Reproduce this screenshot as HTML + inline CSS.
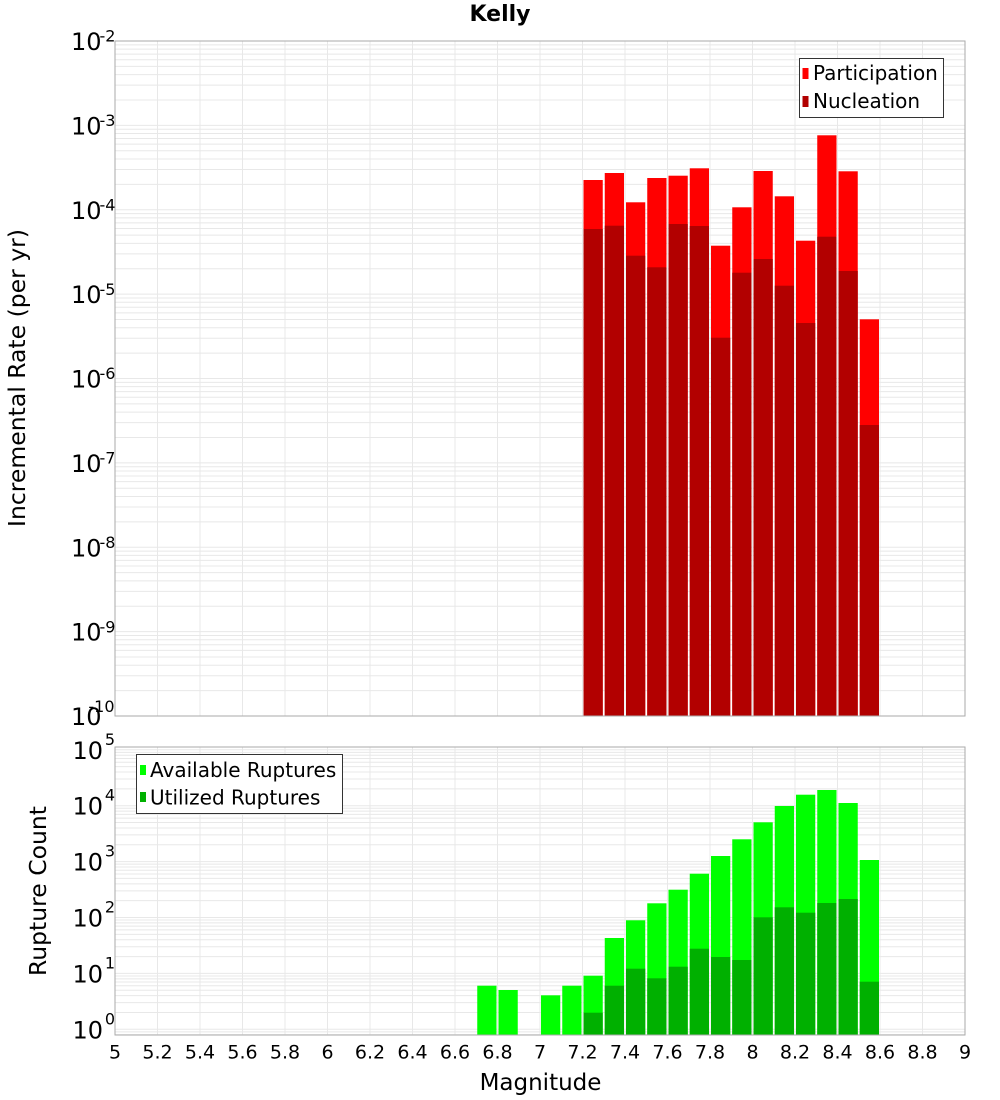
<!DOCTYPE html>
<html>
<head>
<meta charset="utf-8">
<style>
html,body{margin:0;padding:0;background:#fff;}
svg{display:block;}
text{font-family:"DejaVu Sans","Liberation Sans",sans-serif;fill:#000;}
</style>
</head>
<body>
<svg width="1000" height="1100" viewBox="0 0 1000 1100" xmlns="http://www.w3.org/2000/svg">
<defs>
  <clipPath id="cpT"><rect x="115" y="41" width="850" height="675"/></clipPath>
  <clipPath id="cpB"><rect x="115" y="747" width="850" height="288"/></clipPath>
  <g id="dT" stroke="#e8e8e8" stroke-width="1">
    <line x1="115" x2="965" y1="0" y2="0"/>
    <line x1="115" x2="965" y1="3.865" y2="3.865"/>
    <line x1="115" x2="965" y1="8.175" y2="8.175"/>
    <line x1="115" x2="965" y1="13.075" y2="13.075"/>
    <line x1="115" x2="965" y1="18.715" y2="18.715"/>
    <line x1="115" x2="965" y1="25.395" y2="25.395"/>
    <line x1="115" x2="965" y1="33.575" y2="33.575"/>
    <line x1="115" x2="965" y1="44.115" y2="44.115"/>
    <line x1="115" x2="965" y1="58.975" y2="58.975"/>
  </g>
  <g id="dB" stroke="#e8e8e8" stroke-width="1">
    <line x1="115" x2="965" y1="0" y2="0"/>
    <line x1="115" x2="965" y1="2.558" y2="2.558"/>
    <line x1="115" x2="965" y1="5.417" y2="5.417"/>
    <line x1="115" x2="965" y1="8.659" y2="8.659"/>
    <line x1="115" x2="965" y1="12.401" y2="12.401"/>
    <line x1="115" x2="965" y1="16.828" y2="16.828"/>
    <line x1="115" x2="965" y1="22.245" y2="22.245"/>
    <line x1="115" x2="965" y1="29.229" y2="29.229"/>
    <line x1="115" x2="965" y1="39.072" y2="39.072"/>
  </g>
</defs>

<!-- Title -->
<text x="500" y="21" text-anchor="middle" font-size="22" font-weight="bold">Kelly</text>

<!-- ================= TOP PLOT ================= -->
<rect x="115" y="41" width="850" height="675" fill="#fff"/>
<g clip-path="url(#cpT)">
  <use href="#dT" y="41"/>
  <use href="#dT" y="125.375"/>
  <use href="#dT" y="209.75"/>
  <use href="#dT" y="294.125"/>
  <use href="#dT" y="378.5"/>
  <use href="#dT" y="462.875"/>
  <use href="#dT" y="547.25"/>
  <use href="#dT" y="631.625"/>
  <g stroke="#e8e8e8" stroke-width="1">
    <line x1="157.5" x2="157.5" y1="41" y2="716"/>
    <line x1="200" x2="200" y1="41" y2="716"/>
    <line x1="242.5" x2="242.5" y1="41" y2="716"/>
    <line x1="285" x2="285" y1="41" y2="716"/>
    <line x1="327.5" x2="327.5" y1="41" y2="716"/>
    <line x1="370" x2="370" y1="41" y2="716"/>
    <line x1="412.5" x2="412.5" y1="41" y2="716"/>
    <line x1="455" x2="455" y1="41" y2="716"/>
    <line x1="497.5" x2="497.5" y1="41" y2="716"/>
    <line x1="540" x2="540" y1="41" y2="716"/>
    <line x1="582.5" x2="582.5" y1="41" y2="716"/>
    <line x1="625" x2="625" y1="41" y2="716"/>
    <line x1="667.5" x2="667.5" y1="41" y2="716"/>
    <line x1="710" x2="710" y1="41" y2="716"/>
    <line x1="752.5" x2="752.5" y1="41" y2="716"/>
    <line x1="795" x2="795" y1="41" y2="716"/>
    <line x1="837.5" x2="837.5" y1="41" y2="716"/>
    <line x1="880" x2="880" y1="41" y2="716"/>
    <line x1="922.5" x2="922.5" y1="41" y2="716"/>
  </g>
  <!-- Participation -->
  <g fill="#ff0000">
    <rect x="583.5" y="180" width="19.25" height="536"/>
    <rect x="604.75" y="173" width="19.25" height="543"/>
    <rect x="626" y="202.3" width="19.25" height="513.7"/>
    <rect x="647.25" y="178" width="19.25" height="538"/>
    <rect x="668.5" y="175.7" width="19.25" height="540.3"/>
    <rect x="689.75" y="168.3" width="19.25" height="547.7"/>
    <rect x="711" y="245.7" width="19.25" height="470.3"/>
    <rect x="732.25" y="207.3" width="19.25" height="508.7"/>
    <rect x="753.5" y="171" width="19.25" height="545"/>
    <rect x="774.75" y="196.3" width="19.25" height="519.7"/>
    <rect x="796" y="240.7" width="19.25" height="475.3"/>
    <rect x="817.25" y="135.3" width="19.25" height="580.7"/>
    <rect x="838.5" y="171.3" width="19.25" height="544.7"/>
    <rect x="859.75" y="319.3" width="19.25" height="396.7"/>
  </g>
  <!-- Nucleation -->
  <g fill="#b20000">
    <rect x="583.5" y="229" width="19.25" height="487"/>
    <rect x="604.75" y="225.7" width="19.25" height="490.3"/>
    <rect x="626" y="255.7" width="19.25" height="460.3"/>
    <rect x="647.25" y="267.3" width="19.25" height="448.7"/>
    <rect x="668.5" y="224" width="19.25" height="492"/>
    <rect x="689.75" y="226" width="19.25" height="490"/>
    <rect x="711" y="337.7" width="19.25" height="378.3"/>
    <rect x="732.25" y="272.7" width="19.25" height="443.3"/>
    <rect x="753.5" y="259" width="19.25" height="457"/>
    <rect x="774.75" y="285.7" width="19.25" height="430.3"/>
    <rect x="796" y="323" width="19.25" height="393"/>
    <rect x="817.25" y="236.7" width="19.25" height="479.3"/>
    <rect x="838.5" y="271" width="19.25" height="445"/>
    <rect x="859.75" y="425" width="19.25" height="291"/>
  </g>
</g>
<rect x="115" y="41" width="850" height="675" fill="none" stroke="#aaaaaa" stroke-width="1"/>

<!-- Top legend -->
<rect x="799.5" y="58.5" width="144" height="59" fill="#fff" stroke="#333" stroke-width="1"/>
<rect x="802.5" y="68" width="6" height="11" fill="#ff0000"/>
<rect x="802.5" y="96" width="6" height="11" fill="#b20000"/>
<text x="813" y="80" font-size="20">Participation</text>
<text x="813" y="108" font-size="20">Nucleation</text>

<!-- Top y tick labels -->
<g font-size="24" text-anchor="end">
  <text x="101.5" y="50">10</text>
  <text x="101.5" y="134.4">10</text>
  <text x="101.5" y="218.8">10</text>
  <text x="101.5" y="303.1">10</text>
  <text x="101.5" y="387.5">10</text>
  <text x="101.5" y="471.9">10</text>
  <text x="101.5" y="556.3">10</text>
  <text x="101.5" y="640.6">10</text>
  <text x="101.5" y="725">10</text>
</g>
<g font-size="16" text-anchor="start">
  <text x="99.5" y="41.7">-2</text>
  <text x="99.5" y="126.1">-3</text>
  <text x="99.5" y="210.5">-4</text>
  <text x="99.5" y="294.8">-5</text>
  <text x="99.5" y="379.2">-6</text>
  <text x="99.5" y="463.6">-7</text>
  <text x="99.5" y="548">-8</text>
  <text x="99.5" y="632.3">-9</text>
</g>
<text x="114.5" y="712" font-size="16" text-anchor="end">-10</text>

<text transform="translate(25,378) rotate(-90)" text-anchor="middle" font-size="23.5">Incremental Rate (per yr)</text>

<!-- ================= BOTTOM PLOT ================= -->
<rect x="115" y="747" width="850" height="288" fill="#fff"/>
<g clip-path="url(#cpB)">
  <use href="#dB" y="749.8"/>
  <use href="#dB" y="805.7"/>
  <use href="#dB" y="861.6"/>
  <use href="#dB" y="917.5"/>
  <use href="#dB" y="973.4"/>
  <use href="#dB" y="1029.3"/>
  <g stroke="#e8e8e8" stroke-width="1">
    <line x1="157.5" x2="157.5" y1="747" y2="1035"/>
    <line x1="200" x2="200" y1="747" y2="1035"/>
    <line x1="242.5" x2="242.5" y1="747" y2="1035"/>
    <line x1="285" x2="285" y1="747" y2="1035"/>
    <line x1="327.5" x2="327.5" y1="747" y2="1035"/>
    <line x1="370" x2="370" y1="747" y2="1035"/>
    <line x1="412.5" x2="412.5" y1="747" y2="1035"/>
    <line x1="455" x2="455" y1="747" y2="1035"/>
    <line x1="497.5" x2="497.5" y1="747" y2="1035"/>
    <line x1="540" x2="540" y1="747" y2="1035"/>
    <line x1="582.5" x2="582.5" y1="747" y2="1035"/>
    <line x1="625" x2="625" y1="747" y2="1035"/>
    <line x1="667.5" x2="667.5" y1="747" y2="1035"/>
    <line x1="710" x2="710" y1="747" y2="1035"/>
    <line x1="752.5" x2="752.5" y1="747" y2="1035"/>
    <line x1="795" x2="795" y1="747" y2="1035"/>
    <line x1="837.5" x2="837.5" y1="747" y2="1035"/>
    <line x1="880" x2="880" y1="747" y2="1035"/>
    <line x1="922.5" x2="922.5" y1="747" y2="1035"/>
  </g>
  <!-- Available -->
  <g fill="#00ff00">
    <rect x="477.25" y="985.7" width="19.25" height="49.3"/>
    <rect x="498.5" y="990" width="19.25" height="45"/>
    <rect x="541" y="995.3" width="19.25" height="39.7"/>
    <rect x="562.25" y="985.7" width="19.25" height="49.3"/>
    <rect x="583.5" y="975.7" width="19.25" height="59.3"/>
    <rect x="604.75" y="938" width="19.25" height="97"/>
    <rect x="626" y="920.3" width="19.25" height="114.7"/>
    <rect x="647.25" y="903.3" width="19.25" height="131.7"/>
    <rect x="668.5" y="889.7" width="19.25" height="145.3"/>
    <rect x="689.75" y="873.7" width="19.25" height="161.3"/>
    <rect x="711" y="856" width="19.25" height="179"/>
    <rect x="732.25" y="839.3" width="19.25" height="195.7"/>
    <rect x="753.5" y="822.3" width="19.25" height="212.7"/>
    <rect x="774.75" y="806" width="19.25" height="229"/>
    <rect x="796" y="794.7" width="19.25" height="240.3"/>
    <rect x="817.25" y="790" width="19.25" height="245"/>
    <rect x="838.5" y="803" width="19.25" height="232"/>
    <rect x="859.75" y="860" width="19.25" height="175"/>
  </g>
  <!-- Utilized -->
  <g fill="#00b000">
    <rect x="583.5" y="1012.7" width="19.25" height="22.3"/>
    <rect x="604.75" y="985.7" width="19.25" height="49.3"/>
    <rect x="626" y="968.7" width="19.25" height="66.3"/>
    <rect x="647.25" y="978.3" width="19.25" height="56.7"/>
    <rect x="668.5" y="966.7" width="19.25" height="68.3"/>
    <rect x="689.75" y="948.7" width="19.25" height="86.3"/>
    <rect x="711" y="957" width="19.25" height="78"/>
    <rect x="732.25" y="960" width="19.25" height="75"/>
    <rect x="753.5" y="917.3" width="19.25" height="117.7"/>
    <rect x="774.75" y="907.3" width="19.25" height="127.7"/>
    <rect x="796" y="912.7" width="19.25" height="122.3"/>
    <rect x="817.25" y="903" width="19.25" height="132"/>
    <rect x="838.5" y="899" width="19.25" height="136"/>
    <rect x="859.75" y="981.7" width="19.25" height="53.3"/>
  </g>
</g>
<rect x="115" y="747" width="850" height="288" fill="none" stroke="#aaaaaa" stroke-width="1"/>

<!-- Bottom legend -->
<rect x="136.5" y="754.5" width="206" height="59" fill="#fff" stroke="#333" stroke-width="1"/>
<rect x="140" y="765" width="6" height="10" fill="#00ff00"/>
<rect x="140" y="792" width="6" height="10" fill="#00b000"/>
<text x="150" y="777" font-size="20">Available Ruptures</text>
<text x="150" y="804.5" font-size="20">Utilized Ruptures</text>

<!-- Bottom y tick labels -->
<g font-size="24" text-anchor="end">
  <text x="103" y="758.8">10</text>
  <text x="103" y="814.7">10</text>
  <text x="103" y="870.6">10</text>
  <text x="103" y="926.5">10</text>
  <text x="103" y="982.4">10</text>
  <text x="103" y="1038.3">10</text>
</g>
<g font-size="16" text-anchor="end">
  <text x="115" y="744.8">5</text>
  <text x="115" y="800.7">4</text>
  <text x="115" y="856.6">3</text>
  <text x="115" y="912.5">2</text>
  <text x="115" y="968.4">1</text>
  <text x="115" y="1024.3">0</text>
</g>

<text transform="translate(46,891) rotate(-90)" text-anchor="middle" font-size="23.5">Rupture Count</text>

<!-- X tick labels -->
<g font-size="19" text-anchor="middle">
  <text x="115" y="1058.5">5</text>
  <text x="157.5" y="1058.5">5.2</text>
  <text x="200" y="1058.5">5.4</text>
  <text x="242.5" y="1058.5">5.6</text>
  <text x="285" y="1058.5">5.8</text>
  <text x="327.5" y="1058.5">6</text>
  <text x="370" y="1058.5">6.2</text>
  <text x="412.5" y="1058.5">6.4</text>
  <text x="455" y="1058.5">6.6</text>
  <text x="497.5" y="1058.5">6.8</text>
  <text x="540" y="1058.5">7</text>
  <text x="582.5" y="1058.5">7.2</text>
  <text x="625" y="1058.5">7.4</text>
  <text x="667.5" y="1058.5">7.6</text>
  <text x="710" y="1058.5">7.8</text>
  <text x="752.5" y="1058.5">8</text>
  <text x="795" y="1058.5">8.2</text>
  <text x="837.5" y="1058.5">8.4</text>
  <text x="880" y="1058.5">8.6</text>
  <text x="922.5" y="1058.5">8.8</text>
  <text x="965" y="1058.5">9</text>
</g>

<text x="540.5" y="1090" text-anchor="middle" font-size="23">Magnitude</text>
</svg>
</body>
</html>
